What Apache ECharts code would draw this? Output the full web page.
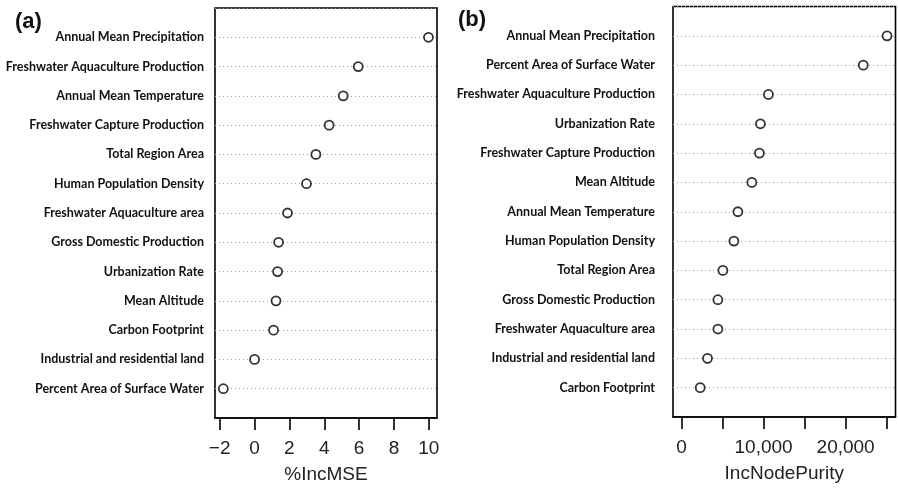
<!DOCTYPE html>
<html>
<head>
<meta charset="utf-8">
<script src="https://cdn.jsdelivr.net/npm/echarts@6/dist/echarts.min.js"></script>
<style>
html,body{margin:0;padding:0;background:#fff;}
#chart{width:898px;height:489px;}
</style>
</head>
<body>
<div id="chart"></div>
<script>
// Panel (a): %IncMSE, listed top to bottom
const catsA = [
  'Annual Mean Precipitation',
  'Freshwater Aquaculture Production',
  'Annual Mean Temperature',
  'Freshwater Capture Production',
  'Total Region Area',
  'Human Population Density',
  'Freshwater Aquaculture area',
  'Gross Domestic Production',
  'Urbanization Rate',
  'Mean Altitude',
  'Carbon Footprint',
  'Industrial and residential land',
  'Percent Area of Surface Water'
];
const valsA = [9.98, 5.95, 5.09, 4.28, 3.52, 2.98, 1.89, 1.38, 1.32, 1.23, 1.09, 0.0, -1.79];

// Panel (b): IncNodePurity, listed top to bottom
const catsB = [
  'Annual Mean Precipitation',
  'Percent Area of Surface Water',
  'Freshwater Aquaculture Production',
  'Urbanization Rate',
  'Freshwater Capture Production',
  'Mean Altitude',
  'Annual Mean Temperature',
  'Human Population Density',
  'Total Region Area',
  'Gross Domestic Production',
  'Freshwater Aquaculture area',
  'Industrial and residential land',
  'Carbon Footprint'
];
const valsB = [25050, 22150, 10590, 9615, 9494, 8570, 6865, 6380, 5040, 4430, 4430, 3165, 2276];

// Tick values
const ticksA = [-2, 0, 2, 4, 6, 8, 10];
const labelsA = [-2, 0, 2, 4, 6, 8, 10];
const ticksB = [0, 5000, 10000, 15000, 20000, 25000];
const labelsB = [0, 10000, 20000];

const titleA = '(a)';
const titleB = '(b)';
const xNameA = '%IncMSE';
const xNameB = 'IncNodePurity';

// Build y categories bottom->top, padded with empty slots at the ends (R dotchart ylim 0..n+1)
function yCats(cats) {
  return [''].concat(cats.slice().reverse()).concat([' ']);
}
function pts(cats, vals) {
  return cats.map((c, i) => [vals[i], c]);
}

const chart = echarts.init(document.getElementById('chart'), null, {renderer: 'canvas'});

const labelFont = {fontFamily: 'Lato', fontWeight: 'bold', fontSize: 12.5, color: '#111'};
const tickFont = {fontFamily: 'Liberation Sans', fontSize: 19, color: '#222'};

function xAxisCfg(gridIndex, min, max, ticks, labels, name, fmt) {
  return {
    type: 'value', gridIndex, min, max,
    name, nameLocation: 'middle', nameGap: 47,
    nameTextStyle: {fontFamily: 'Liberation Sans', fontSize: 19, color: '#222'},
    axisLine: {show: true, onZero: false, lineStyle: {color: '#000', width: 1.5}},
    axisTick: {show: true, customValues: ticks, length: 12, lineStyle: {color: '#000', width: 1.6}},
    axisLabel: Object.assign({customValues: labels, margin: 21, formatter: fmt}, tickFont),
    splitLine: {show: false}
  };
}
function yAxisCfg(gridIndex, cats, margin) {
  return {
    type: 'category', gridIndex, data: yCats(cats), boundaryGap: false,
    axisLine: {show: false}, axisTick: {show: false},
    axisLabel: Object.assign({margin, interval: 0}, labelFont),
    splitLine: {show: true, lineStyle: {color: '#a0a0a0', type: [1, 3], width: 1}}
  };
}

const titleStyle = {fontFamily: 'Liberation Sans', fontWeight: 'bold', fontSize: 22, color: '#111'};

const option = {
  backgroundColor: '#fff',
  animation: false,
  title: [
    {text: titleA, left: 10, top: 6, textStyle: titleStyle},
    {text: titleB, left: 453, top: 4, textStyle: titleStyle}
  ],
  grid: [
    {left: 215, top: 8, width: 222, height: 411, show: true, borderColor: '#000', borderWidth: 1.6, backgroundColor: 'transparent'},
    {left: 673, top: 6, width: 222.5, height: 411, show: true, borderColor: '#000', borderWidth: 1.6, backgroundColor: 'transparent'}
  ],
  xAxis: [
    xAxisCfg(0, -2.27, 10.47, ticksA, labelsA, xNameA, v => (v < 0 ? '\u2212' + Math.abs(v) : String(v))),
    xAxisCfg(1, -1040, 26080, ticksB, labelsB, xNameB, v => v.toLocaleString('en-US'))
  ],
  yAxis: [
    yAxisCfg(0, catsA, 11),
    yAxisCfg(1, catsB, 18)
  ],
  series: [
    {type: 'scatter', xAxisIndex: 0, yAxisIndex: 0, data: pts(catsA, valsA), symbol: 'circle', symbolSize: 9,
     itemStyle: {color: '#fff', borderColor: '#000', borderWidth: 1.8}},
    {type: 'scatter', xAxisIndex: 1, yAxisIndex: 1, data: pts(catsB, valsB), symbol: 'circle', symbolSize: 9,
     itemStyle: {color: '#fff', borderColor: '#000', borderWidth: 1.8}}
  ]
};
chart.setOption(option);
</script>
</body>
</html>
